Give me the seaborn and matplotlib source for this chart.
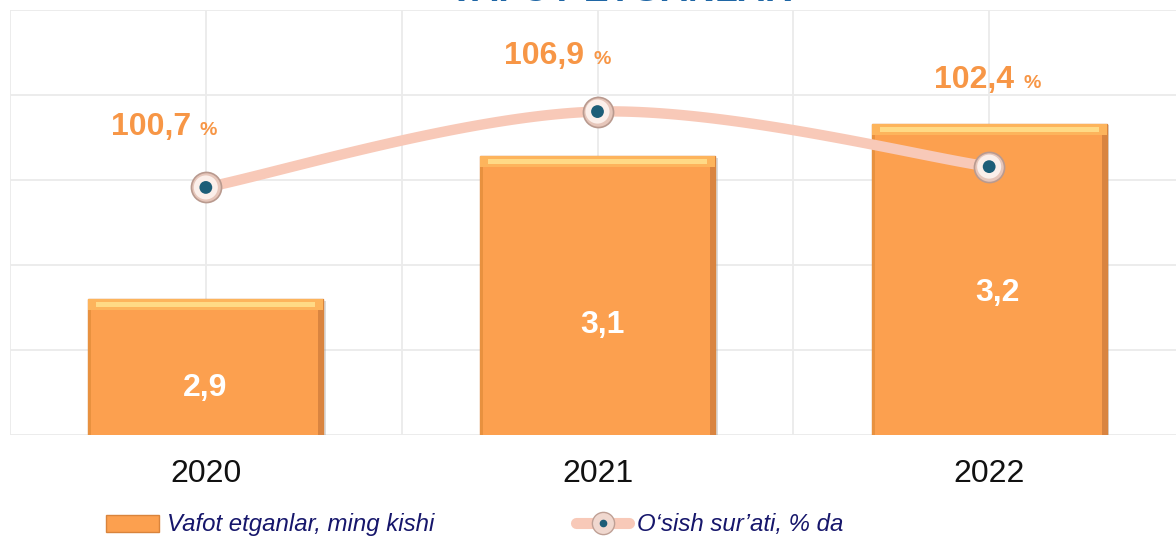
import numpy as np
import pandas as pd
import matplotlib
matplotlib.use("Agg")
import matplotlib.pyplot as plt
import seaborn as sns
from matplotlib.patches import Rectangle, Patch
from matplotlib.lines import Line2D
from matplotlib.legend_handler import HandlerTuple
import matplotlib.patheffects as pe

# ---- data ----
years = ["2020", "2021", "2022"]
deaths = [2.94, 3.14, 3.186]          # Vafot etganlar, ming kishi
growth = [100.7, 106.9, 102.4]        # O'sish sur'ati, % da
legend_labels = ["Vafot etganlar, ming kishi", "O\u2018sish sur\u2019ati, % da"]
title_text = "VAFOT ETGANLAR"

# ---- style ----
BAR = "#FCA04F"
BAR_EDGE = "#D9843C"
LINE = "#F8C9B8"
PCT = "#F79646"
GRID = "#EBEBEB"
NAVY = "#16166B"

sns.set_theme(style="white")
plt.rcParams["font.family"] = ["Liberation Sans", "DejaVu Sans"]

W, H = 1176, 542
fig = plt.figure(figsize=(W / 100, H / 100), dpi=100)
fig.patch.set_facecolor("white")
ax = fig.add_axes([10 / W, 107 / H, 1175 / W, 425 / H])

df = pd.DataFrame({"year": years, "deaths": deaths})
sns.barplot(data=df, x="year", y="deaths", ax=ax, color=BAR, saturation=1,
            width=0.6, edgecolor=BAR_EDGE, linewidth=1, zorder=2)
ax.set_xlim(-0.5, 2.5)
y0, y1 = 2.75, 3.345
ax.set_ylim(y0, y1)
ax.set_yticks(np.linspace(y0, y1, 6))
ax.set_yticklabels([])
ax.set_xticks([-0.5, 0.5, 1.5, 2.5], minor=True)
ax.grid(True, which="both", axis="x", color=GRID, lw=1.3, zorder=0)
ax.grid(True, which="major", axis="y", color=GRID, lw=1.3, zorder=0)
ax.set_axisbelow(True)
for s in ax.spines.values():
    s.set_visible(False)
ax.tick_params(axis="both", which="both", length=0)
ax.tick_params(axis="x", pad=17, labelsize=23, labelcolor="#111111")
ax.set_xlabel("")
ax.set_ylabel("")

# bevel-like decoration on bars
dpy = (y1 - y0) / 425.0
dpx = 3.0 / 1175.0
for p in list(ax.patches):
    x0, w = p.get_x(), p.get_width()
    top = p.get_y() + p.get_height()
    p.set_path_effects([pe.SimplePatchShadow(offset=(2, -1), shadow_rgbFace="#8a8a8a", alpha=0.3),
                        pe.Normal()])
    ax.add_patch(Rectangle((x0 + w - 5 * dpx, y0), 5 * dpx, top - y0, color="#D98440", zorder=2.1, lw=0))
    ax.add_patch(Rectangle((x0, y0), 3 * dpx, top - y0, color="#E8913F", zorder=2.1, lw=0))
    ax.add_patch(Rectangle((x0, top - 11 * dpy), w, 11 * dpy, color="#FDB45C", zorder=2.2, lw=0))
    ax.add_patch(Rectangle((x0 + 8 * dpx, top - 8 * dpy), w - 16 * dpx, 5 * dpy, color="#FFDA86", zorder=2.3, lw=0))

bar_offsets = [(-1, -89), (5, -169), (8, -169)]
for i, v in enumerate(deaths):
    ax.annotate(f"{v:.1f}".replace(".", ","), xy=(i, v), xytext=bar_offsets[i],
                textcoords="offset pixels", ha="center", va="center",
                fontsize=23, fontweight="bold", color="white", zorder=6)

# ---- secondary axis: growth line ----
ax2 = ax.twinx()
ax2.set_ylim(80.47, 115.2)
ax2.set_yticks([])
ax2.grid(False)
for s in ax2.spines.values():
    s.set_visible(False)


def catmull_rom(xs, ys, n=60):
    P = np.column_stack([xs, ys]).astype(float)
    ext = np.vstack([P[0], P, P[-1]])
    out = []
    for i in range(len(P) - 1):
        p0, p1, p2, p3 = ext[i], ext[i + 1], ext[i + 2], ext[i + 3]
        m1 = (p2 - p0) / 2.0
        m2 = (p3 - p1) / 2.0
        t = np.linspace(0, 1, n)[:, None]
        h00 = 2 * t**3 - 3 * t**2 + 1
        h10 = t**3 - 2 * t**2 + t
        h01 = -2 * t**3 + 3 * t**2
        h11 = t**3 - t**2
        out.append(h00 * p1 + h10 * m1 + h01 * p2 + h11 * m2)
    c = np.vstack(out)
    return c[:, 0], c[:, 1]


xpos = np.arange(len(years))
cx, cy = catmull_rom(xpos, growth)
ax2.plot(cx, cy, color=LINE, lw=7.5, solid_capstyle="round", zorder=3)
sns.scatterplot(x=xpos, y=growth, ax=ax2, s=470, color="#E6C6BA", edgecolor="#B99A8F",
                linewidth=1.2, zorder=4)
sns.scatterplot(x=xpos, y=growth, ax=ax2, s=300, color="#FBEFEA", edgecolor="none", zorder=5)
sns.scatterplot(x=xpos, y=growth, ax=ax2, s=85, color="#1D5E78", edgecolor="none", zorder=6)
ax2.set_xlabel("")
ax2.set_ylabel("")
ax2.set_xlim(-0.5, 2.5)

pct_offsets = [(-11, 52), (-9, 48), (29, 79)]
for i, g in enumerate(growth):
    dx, dy = pct_offsets[i]
    ax2.annotate(f"{g:.1f}".replace(".", ","), xy=(i, g), xytext=(dx - 4, dy),
                 textcoords="offset pixels", ha="right", va="baseline",
                 fontsize=23, fontweight="bold", color=PCT, zorder=7)
    ax2.annotate("%", xy=(i, g), xytext=(dx + 5, dy), textcoords="offset pixels",
                 ha="left", va="baseline", fontsize=14, fontweight="bold", color=PCT, zorder=7)

# ---- legend ----
h_bar = Patch(facecolor=BAR, edgecolor=BAR_EDGE, linewidth=1)
h_line = Line2D([], [], color=LINE, lw=8, marker="o", ms=16, mfc="#F0D8CF", mec="#BFA095", mew=1)
h_dot = Line2D([], [], ls="none", marker="o", ms=4.5, color="#1D5E78")
fig.legend([h_bar, (h_line, h_dot)], legend_labels,
           handler_map={tuple: HandlerTuple(ndivide=1)},
           loc="center left", bbox_to_anchor=(106 / W, 1 - 525 / H), ncol=2, frameon=False,
           prop={"style": "italic", "size": 17.3}, labelcolor=NAVY,
           handlelength=2.2, handletextpad=0.34, columnspacing=5.9,
           borderpad=0, borderaxespad=0)

# cropped title fragment at the very top
fig.text(620 / W, 1 - 1 / H, title_text, ha="center", va="baseline",
         fontsize=27, fontweight="bold", color="#1F66A5")

fig.savefig("out.png", dpi=100)
